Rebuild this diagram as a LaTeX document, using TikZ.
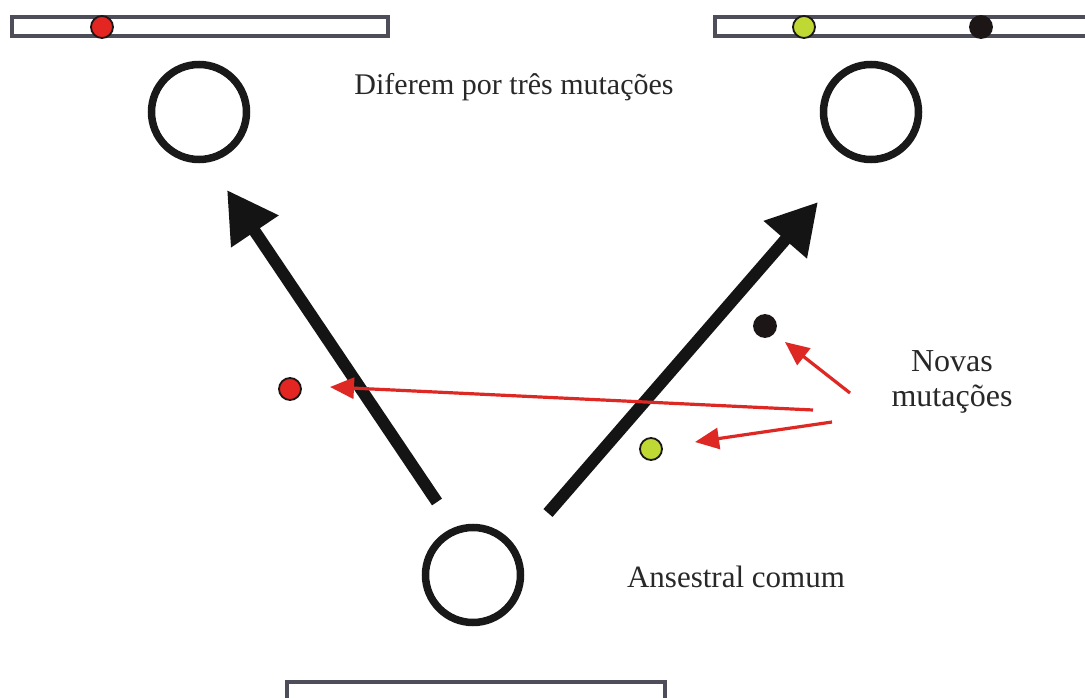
\documentclass[tikz,border=0pt]{standalone}
\usepackage{fontspec}
\setmainfont{Liberation Serif}
\usetikzlibrary{arrows.meta}
\definecolor{barline}{RGB}{78,78,90}
\definecolor{mred}{RGB}{228,38,34}
\definecolor{mgreen}{RGB}{192,216,52}
\definecolor{mblack}{RGB}{28,22,22}
\definecolor{arrred}{RGB}{222,40,36}
\definecolor{txt}{RGB}{40,40,40}
\tikzset{
  bar/.style={draw=barline, line width=3.5pt, fill=white},
  cell/.style={circle, draw=black!90, line width=7.5pt, minimum size=95pt, inner sep=0pt},
  mut/.style={circle, draw=mblack, line width=1.8pt, minimum size=22pt, inner sep=0pt},
  bigarrow/.style={line width=12pt, -{Triangle[length=50pt,width=54pt]}, black!92},
  redarrow/.style={line width=3.2pt, arrred, -{Triangle[length=24pt,width=21pt]}},
  lbl/.style={text=txt, font=\fontsize{31}{35}\selectfont, inner sep=0pt, align=center}
}
\begin{document}
\begin{tikzpicture}[x=1pt,y=-1pt]
\useasboundingbox (0,0) rectangle (1085,698);
\fill[white] (0,0) rectangle (1085,698);
% chromosome bars
\draw[bar] (12,17) rectangle (388,36);
\draw[bar] (715,17) rectangle (1095,36);
\draw[bar] (287,682) rectangle (665,710);
% mutations on bars
\node[mut, fill=mred] (r1) at (102,27) {};
\node[mut, fill=mgreen] (g1) at (804,27) {};
\node[mut, fill=mblack] (b1) at (981,27) {};
% cells
\node[cell] (cl) at (199,112) {};
\node[cell] (cr) at (871,112) {};
\node[cell] (cb) at (473,575) {};
% labels
\node[lbl, font=\fontsize{30}{34}\selectfont] (t1) at (514,87) {Diferem por três mutações};
\node[lbl] (t2) at (736,577) {Ansestral comum};
\node[lbl, font=\fontsize{32}{35}\selectfont] (t3) at (952,382) {Novas\\mutações};
% big arrows
\coordinate (la) at (437,502);
\coordinate (lb) at (227,190);
\coordinate (ra) at (548,513);
\coordinate (rb) at (818,202);
\draw[bigarrow] (la) -- (lb);
\draw[bigarrow] (ra) -- (rb);
% new mutation dots
\node[mut, fill=mred] (r2) at (290,389) {};
\node[mut, fill=mgreen] (g2) at (651,449) {};
\node[mut, fill=mblack] (b2) at (765,326) {};
% red arrows
\coordinate (s1) at (813,410);
\coordinate (e1) at (330,387);
\coordinate (s2) at (832,422);
\coordinate (e2) at (695,442);
\coordinate (s3) at (850,393);
\coordinate (e3) at (785,342);
\draw[redarrow] (s1) -- (e1);
\draw[redarrow] (s2) -- (e2);
\draw[redarrow] (s3) -- (e3);
\end{tikzpicture}
\end{document}
